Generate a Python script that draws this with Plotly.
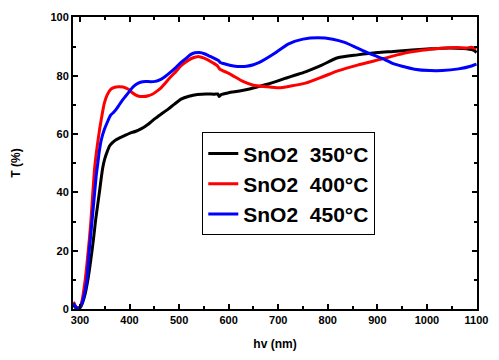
import plotly.graph_objects as go

# ---- data ----
x_350 = [287, 291, 296, 301, 306, 311, 316, 320, 324, 328, 332, 336, 340, 343, 346, 350, 355, 360,
         365, 372, 380, 390, 400, 413, 425, 432, 442, 452, 465, 478, 490, 504, 520, 537, 555, 571,
         578, 581, 585, 600, 622, 642, 662, 680, 695, 715, 735, 755, 788, 820, 860, 900, 932, 970,
         1000, 1031, 1060, 1080, 1090, 1096, 1100]
y_350 = [1.5, 0.5, 0.2, 0.6, 2.5, 5.5, 10, 14.5, 19.5, 25, 31, 36, 41, 45, 48.5, 51.5, 54, 56,
         57, 58, 58.7, 59.5, 60.3, 61, 62, 62.7, 64, 65.4, 67, 68.6, 70.2, 72, 73, 73.6, 73.8, 73.7,
         73.8, 72.9, 73.6, 74.2, 74.8, 75.5, 76.4, 77.2, 78, 79.2, 80.3, 81.4, 83.7, 86.2, 87.2, 88, 88.4, 88.9,
         89.2, 89.5, 89.5, 89.3, 89.0, 88.6, 88.0]

x_400 = [287, 291, 296, 301, 305, 309, 312, 315, 319, 322, 326, 330, 335, 340, 345, 349, 355, 363,
         370, 378, 387, 393, 400, 405, 412, 419, 428, 438, 446, 454, 463, 472, 481, 491, 504, 520,
         530, 537, 545, 557, 567, 577, 580, 582, 590, 602, 630, 650, 675, 701, 725, 755, 790, 820,
         860, 914, 940, 966, 1000, 1031, 1060, 1080, 1090, 1100]
y_400 = [2.5, 1, 0.3, 1, 3.5, 8, 12, 17, 24, 30, 40, 49, 56, 62, 67, 70.5, 73.5, 75.5,
         76.1, 76.3, 76.2, 75.8, 75.2, 74.3, 73.5, 73, 72.9, 73.2, 73.7, 74.6, 75.8, 77.5, 79.3, 81, 83.5, 85.5,
         86.3, 86.6, 86.4, 85.6, 84.6, 83.5, 82.8, 82.3, 81.6, 80.7, 78, 76.8, 76.3, 75.9, 76.5, 77.5, 79.7, 81.7,
         83.7, 86, 87.2, 88.2, 89, 89.5, 89.7, 89.6, 89.8, 89.3]

x_450 = [287, 291, 296, 301, 306, 310, 314, 318, 321, 324, 327, 330, 333, 336, 339, 343, 349, 355,
         362, 368, 373, 379, 385, 392, 399, 406, 413, 422, 432, 442, 452, 462, 472, 481, 491, 504,
         514, 523, 532, 541, 551, 561, 570, 577, 580, 583, 595, 610, 625, 636, 650, 662, 689, 721,
         750, 780, 810, 834, 860, 880, 894, 914, 932, 950, 975, 1006, 1031, 1064, 1090, 1100]
y_450 = [2, 0.8, 0.3, 0.8, 3, 6, 10, 18.6, 24, 29.5, 35, 40.5, 46, 50, 54, 58, 61.5, 64,
         66.5, 67.5, 68.5, 70, 71.5, 73, 74.5, 76, 77, 77.8, 78.1, 78, 78.1, 78.7, 79.8, 81, 82.5, 84.6,
         86, 87.3, 87.9, 88, 87.6, 86.8, 86.1, 85.5, 85.2, 84.6, 84, 83.4, 83.2, 83.3, 83.8, 84.6, 87.3, 91,
         92.6, 93.1, 92.6, 91.5, 89.5, 88, 87, 85.7, 84.2, 83.3, 82.3, 81.8, 81.8, 82.4, 83.4, 84]

series_names = ["SnO2\u00a0\u00a0350°C", "SnO2\u00a0\u00a0400°C", "SnO2\u00a0\u00a0450°C"]
series_colors = ["#000000", "#ff0000", "#0000ff"]

x_ticks = [300, 400, 500, 600, 700, 800, 900, 1000, 1100]
y_ticks = [0, 20, 40, 60, 80, 100]

FONT = "Arial, 'Liberation Sans', sans-serif"

fig = go.Figure()
for xs, ys, name, col in zip([x_350, x_400, x_450], [y_350, y_400, y_450], series_names, series_colors):
    fig.add_trace(go.Scatter(x=xs, y=ys, mode="lines", name=name,
                             line=dict(color=col, width=3, shape="spline", smoothing=0.6)))

axis_common = dict(
    showline=True, linecolor="black", linewidth=2, mirror="ticks",
    ticks="inside", ticklen=5, tickwidth=2, tickcolor="black",
    showgrid=False, zeroline=False,
    tickfont=dict(family=FONT, size=11, color="black", weight="bold"),
)

fig.update_layout(
    width=499, height=360,
    margin=dict(l=73, r=13, t=11, b=43),
    paper_bgcolor="white", plot_bgcolor="white",
    xaxis=dict(range=[286, 1101], tickvals=x_ticks,
               minor=dict(dtick=50, tick0=250, ticks="inside", ticklen=3, tickwidth=1.5, tickcolor="black"),
               title=dict(text="hv (nm)", font=dict(family=FONT, size=12, color="black", weight="bold"),
                          standoff=14),
               **axis_common),
    yaxis=dict(range=[0, 100.2], tickvals=y_ticks,
               minor=dict(dtick=10, ticks="inside", ticklen=3, tickwidth=1.5, tickcolor="black"),
               title=dict(text="T (%)", font=dict(family=FONT, size=12, color="black", weight="bold"),
                          standoff=27),
               **axis_common),
    legend=dict(x=0.32, y=0.605, xanchor="left", yanchor="top",
                bordercolor="black", borderwidth=1, bgcolor="white",
                font=dict(family=FONT, size=21, color="black", weight="bold"),
                tracegroupgap=0),
    showlegend=True,
)

fig.write_html("out.html", config={"displayModeBar": False},
               post_script="document.body.style.margin='0px';")
